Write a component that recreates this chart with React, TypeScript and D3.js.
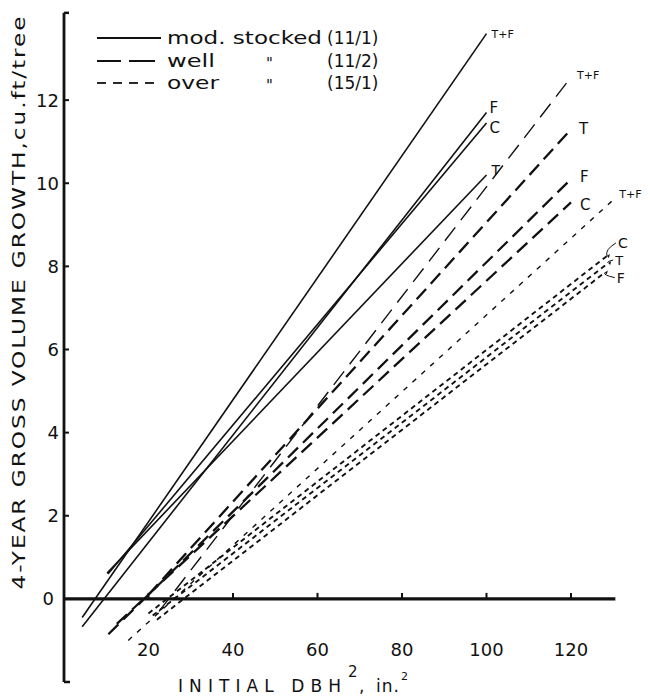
import React from "react";
import * as d3 from "d3";

// ---- data ----
const xTicks = [20, 40, 60, 80, 100, 120];
const yTicks = [0, 2, 4, 6, 8, 10, 12];

// moderately stocked (solid)
const modLabels = ["T+F", "F", "C", "T"];
const modStartX = [4.3, 4.3, 10.4, 10.2];
const modStartY = [-0.45, -0.67, 0.6, 0.62];
const modEndX = [100, 100, 100, 100];
const modEndY = [13.6, 11.7, 11.45, 10.2];

// well stocked (long dashes)
const wellLabels = ["T+F", "T", "F", "C"];
const wellStartX = [22.5, 20, 10.5, 12.5];
const wellStartY = [-0.3, 0.1, -0.85, -0.6];
const wellEndX = [120, 120, 120, 120];
const wellEndY = [12.55, 11.3, 10.1, 9.54];

// overstocked (short dashes)
const overLabels = ["T+F", "C", "T", "F"];
const overStartX = [15.2, 20, 21, 22];
const overStartY = [-1.0, -0.35, -0.4, -0.5];
const overEndX = [130, 128.5, 128.8, 128];
const overEndY = [9.6, 8.25, 8.08, 7.85];

const legendNames = ["mod. stocked", "well", "over"];
const legendCodes = ["(11/1)", "(11/2)", "(15/1)"];

const FONT = "'DejaVu Sans', Lato, sans-serif";

export default function App() {
  const W = 650, H = 696;
  const x = d3.scaleLinear().domain([0, 130]).range([64, 613.25]);
  const y = d3.scaleLinear().domain([-2, 14]).range([682, 17]);
  const line = d3.line<[number, number]>().x(d => x(d[0])).y(d => y(d[1]));

  const mk = (sx: number[], sy: number[], ex: number[], ey: number[]) =>
    sx.map((v, i) => [[v, sy[i]], [ex[i], ey[i]]] as [number, number][]);

  const mod = mk(modStartX, modStartY, modEndX, modEndY);
  const well = mk(wellStartX, wellStartY, wellEndX, wellEndY);
  const over = mk(overStartX, overStartY, overEndX, overEndY);

  // label offsets (px) relative to line end: dx, dy, font size
  const modOff: [number, number, number][] = [[5, 1, 11], [3, -5, 15], [3, 5, 15], [5, -5, 14]];
  const wellOff: [number, number, number][] = [[6, -2, 11], [8, 0, 15], [9, -2, 15], [9, 2, 15]];
  const overOff: [number, number, number][] = [[11, -13, 14], [7, -3, 13], [12, 5, 14]];
  const overOffAll: [number, number, number][] = [[6, -6, 11], ...overOff];

  const legendNameLen = [155, 48, 52];

  return (
    <svg width={W} height={H} style={{ display: "block", position: "absolute", left: 0, top: 0, background: "#fff" }}>
      <rect x={0} y={0} width={W} height={H} fill="#fff" />
      {/* axes */}
      <line x1={x(0)} y1={y(14.1)} x2={x(0)} y2={y(-2)} stroke="#111" strokeWidth={2.8} />
      <line x1={x(0)} y1={y(14.1)} x2={x(0) + 5} y2={y(14.1)} stroke="#111" strokeWidth={2.5} />
      <line x1={x(0)} y1={y(-2)} x2={x(0) + 6} y2={y(-2)} stroke="#111" strokeWidth={2.5} />
      <line x1={x(0)} y1={y(0)} x2={x(130.5)} y2={y(0)} stroke="#111" strokeWidth={3.2} />
      {xTicks.map(t => (
        <g key={"xt" + t}>
          <line x1={x(t)} y1={y(0)} x2={x(t)} y2={y(0) - 6} stroke="#111" strokeWidth={2} />
          <text x={x(t)} y={656} textAnchor="middle" fontFamily={FONT} fontSize={18} fill="#111">{t}</text>
        </g>
      ))}
      {yTicks.map(t => (
        <g key={"yt" + t}>
          {t !== 0 && <line x1={x(0)} y1={y(t)} x2={x(0) + 5} y2={y(t)} stroke="#111" strokeWidth={2} />}
          <text x={t === 0 ? 54 : 59} y={y(t)} dy="0.36em" textAnchor="end" fontFamily={FONT} fontSize={18} fill="#111">{t}</text>
        </g>
      ))}
      {/* axis titles */}
      <text transform={`translate(25,${302}) rotate(-90)`} textAnchor="middle" fontFamily={FONT} fontSize={18} fill="#111"
        letterSpacing={1.5} textLength={575} lengthAdjust="spacingAndGlyphs">4-YEAR GROSS VOLUME GROWTH,cu.ft/tree</text>
      <text x={178} y={692} fontFamily={FONT} fontSize={17} fill="#111" textLength={163} lengthAdjust="spacing">INITIAL DBH</text>
      <text x={348} y={677} fontFamily={FONT} fontSize={15} fill="#111">2</text>
      <text x={359} y={692} fontFamily={FONT} fontSize={17} fill="#111">,</text>
      <text x={376} y={692} fontFamily={FONT} fontSize={17} fill="#111" letterSpacing={1}>in.</text>
      <text x={401} y={680} fontFamily={FONT} fontSize={11} fill="#111">2</text>

      {/* lines */}
      {mod.map((d, i) => (
        <path key={"m" + i} d={line(d) || ""} fill="none" stroke="#111" strokeWidth={1.6} />
      ))}
      {well.map((d, i) => (
        <path key={"w" + i} d={line(d) || ""} fill="none" stroke="#111"
          strokeWidth={i === 0 ? 1.4 : 2.3} strokeDasharray={i === 0 ? "17,9" : "14,7"} />
      ))}
      {over.map((d, i) => (
        <path key={"o" + i} d={line(d) || ""} fill="none" stroke="#111"
          strokeWidth={i === 0 ? 1.4 : 1.9} strokeDasharray={i === 0 ? "5,7" : "5,4"} />
      ))}

      {/* end labels */}
      {modLabels.map((l, i) => (
        <text key={"ml" + i} x={x(modEndX[i]) + modOff[i][0]} y={y(modEndY[i]) + modOff[i][1]} dy="0.35em"
          fontFamily={FONT} fontSize={modOff[i][2]} fill="#111">{l}</text>
      ))}
      {wellLabels.map((l, i) => (
        <text key={"wl" + i} x={x(wellEndX[i]) + wellOff[i][0]} y={y(wellEndY[i]) + wellOff[i][1]} dy="0.35em"
          fontFamily={FONT} fontSize={wellOff[i][2]} fill="#111">{l}</text>
      ))}
      {overLabels.map((l, i) => (
        <text key={"ol" + i} x={x(overEndX[i]) + overOffAll[i][0]} y={y(overEndY[i]) + overOffAll[i][1]} dy="0.35em"
          fontFamily={FONT} fontSize={overOffAll[i][2]} fill="#111">{l}</text>
      ))}
      {/* small pointer arrows for crowded over labels */}
      {[1, 2, 3].map(i => {
        const ex = x(overEndX[i]), ey = y(overEndY[i]);
        const lx = ex + overOffAll[i][0] - 2, ly = ey + overOffAll[i][1];
        return (
          <g key={"ar" + i}>
            <path d={`M${lx},${ly} Q${ex - 2},${(ly + ey) / 2} ${ex},${ey}`} fill="none" stroke="#111" strokeWidth={1} />
            <path d={`M${ex},${ey} l3,-2 l-1,4 z`} fill="#111" />
          </g>
        );
      })}

      {/* legend */}
      <line x1={97} y1={38} x2={161} y2={38} stroke="#111" strokeWidth={1.8} />
      <line x1={97} y1={61} x2={121} y2={61} stroke="#111" strokeWidth={2} />
      <line x1={129} y1={61} x2={155} y2={61} stroke="#111" strokeWidth={2} />
      {[0, 1, 2, 3].map(k => (
        <line key={"ld" + k} x1={97 + k * 16} y1={83} x2={106 + k * 16} y2={83} stroke="#111" strokeWidth={1.8} />
      ))}
      {legendNames.map((n, i) => (
        <text key={"ln" + i} x={167} y={44 + i * 22.5} fontFamily={FONT} fontSize={18} fill="#111"
          textLength={legendNameLen[i]} lengthAdjust="spacingAndGlyphs">{n}</text>
      ))}
      {[1, 2].map(i => (
        <text key={"q" + i} x={266} y={46 + i * 22.5} fontFamily={FONT} fontSize={15} fill="#111">"</text>
      ))}
      {legendCodes.map((c, i) => (
        <text key={"lc" + i} x={327} y={44 + i * 22.5} fontFamily={FONT} fontSize={17} fill="#111">{c}</text>
      ))}
    </svg>
  );
}
